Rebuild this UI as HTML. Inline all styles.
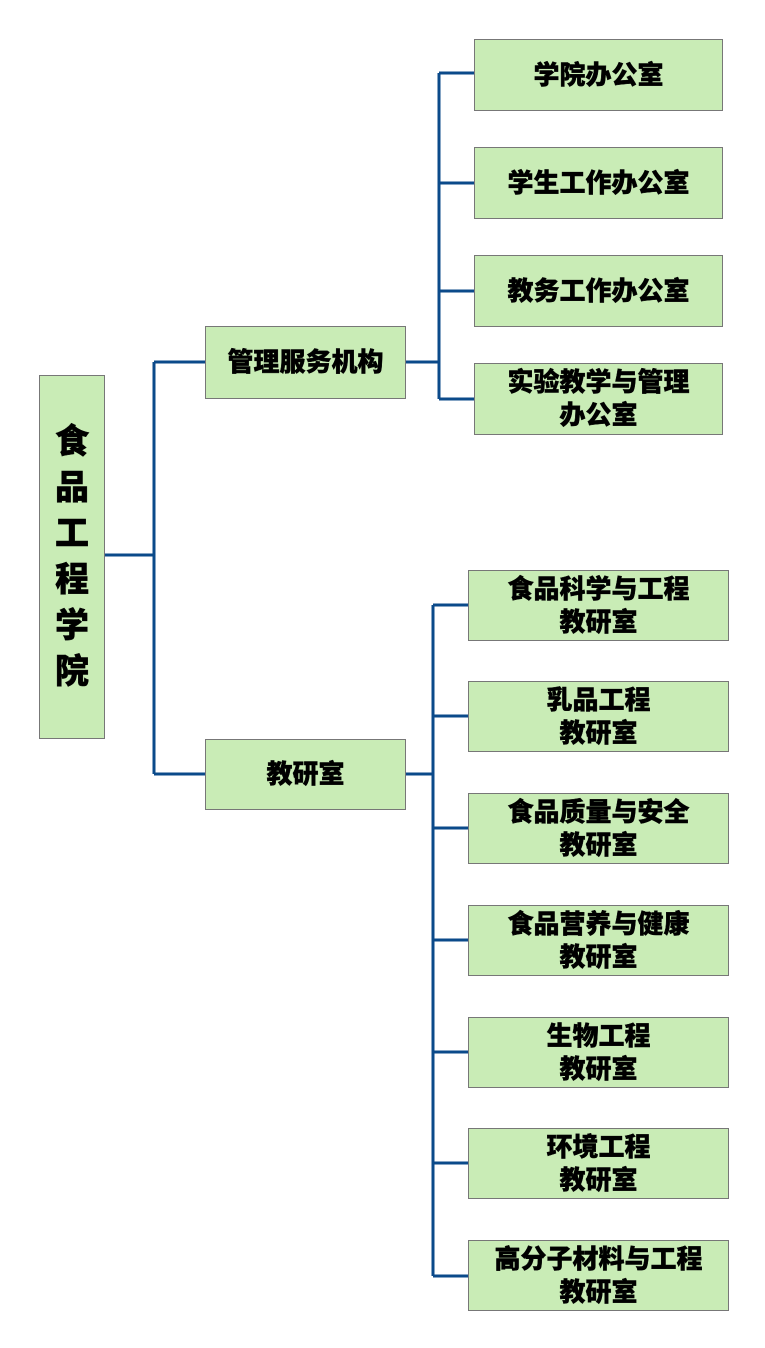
<!DOCTYPE html>
<html><head><meta charset="utf-8"><style>
body{margin:0;width:765px;height:1348px;background:#fff;position:relative;font-family:"Liberation Sans","Noto Sans CJK SC",sans-serif;overflow:hidden}
.b{position:absolute;background:#c9ecb6;border:1.5px solid #777;box-sizing:border-box;display:flex;align-items:center;justify-content:center;text-align:center;font-weight:900;font-size:26px;line-height:33px;color:#000;-webkit-text-stroke:0.4px #000}
svg{position:absolute;left:0;top:0}
</style></head><body>
<svg width="765" height="1348"><g stroke="#0b4a8a" stroke-width="3" fill="none">
<path d="M105 555 H154 M154 362 V774 M154 362 H205 M154 774 H205"/>
<path d="M406 362 H439 M439 73 V399 M439 73 H474 M439 183 H474 M439 291 H474 M439 399 H474"/>
<path d="M406 774 H433 M433 605 V1276 M433 605 H468 M433 716 H468 M433 828 H468 M433 940 H468 M433 1052 H468 M433 1163 H468 M433 1276 H468"/>
</g></svg>
<div class="b" style="left:39px;top:375px;width:66px;height:364px;font-size:34px;line-height:46px">食<br>品<br>工<br>程<br>学<br>院</div>
<div class="b" style="left:205px;top:326px;width:201px;height:73px">管理服务机构</div>
<div class="b" style="left:205px;top:739px;width:201px;height:71px">教研室</div>
<div class="b" style="left:474px;top:39px;width:249px;height:72px">学院办公室</div>
<div class="b" style="left:474px;top:147px;width:249px;height:72px">学生工作办公室</div>
<div class="b" style="left:474px;top:255px;width:249px;height:72px">教务工作办公室</div>
<div class="b" style="left:474px;top:363px;width:249px;height:72px">实验教学与管理<br>办公室</div>
<div class="b" style="left:468px;top:570px;width:261px;height:71px">食品科学与工程<br>教研室</div>
<div class="b" style="left:468px;top:681px;width:261px;height:71px">乳品工程<br>教研室</div>
<div class="b" style="left:468px;top:793px;width:261px;height:71px">食品质量与安全<br>教研室</div>
<div class="b" style="left:468px;top:905px;width:261px;height:71px">食品营养与健康<br>教研室</div>
<div class="b" style="left:468px;top:1017px;width:261px;height:71px">生物工程<br>教研室</div>
<div class="b" style="left:468px;top:1128px;width:261px;height:71px">环境工程<br>教研室</div>
<div class="b" style="left:468px;top:1240px;width:261px;height:71px">高分子材料与工程<br>教研室</div>
</body></html>
